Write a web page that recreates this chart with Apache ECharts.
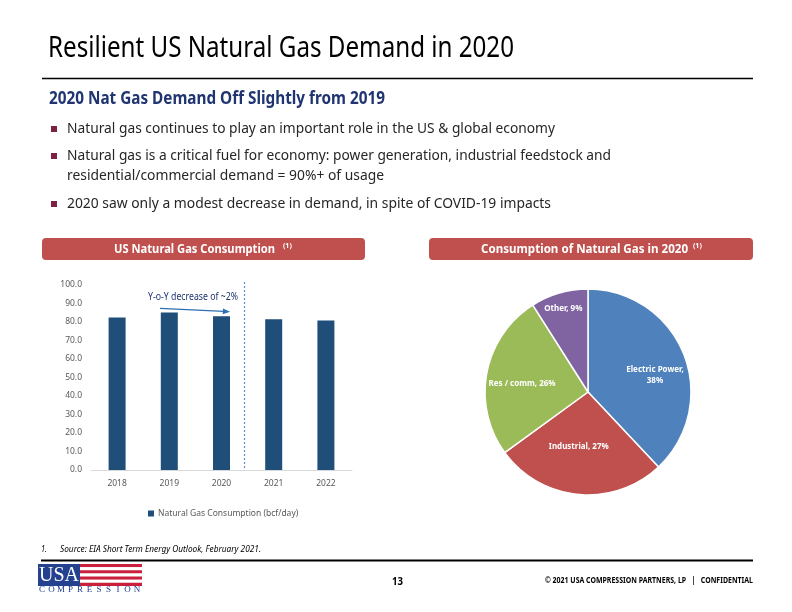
<!DOCTYPE html>
<html>
<head>
<meta charset="utf-8">
<script src="https://cdn.jsdelivr.net/npm/echarts@6/dist/echarts.min.js"></script>
<style>
html,body{margin:0;padding:0;background:#fff;}
#chart{width:792px;height:612px;}
</style>
</head>
<body>
<div id="chart"></div>
<script>
// ---------- data ----------
const years = ['2018', '2019', '2020', '2021', '2022'];
const consumption = [82.4, 85.1, 83.1, 81.5, 80.8];
const seriesName = 'Natural Gas Consumption (bcf/day)';
const yTicks = [0, 10, 20, 30, 40, 50, 60, 70, 80, 90, 100];
const pieNames = ['Electric Power', 'Industrial', 'Res / comm', 'Other'];
const pieValues = [38, 27, 26, 9];

const slideTitle = 'Resilient US Natural Gas Demand in 2020';
const subTitle = '2020 Nat Gas Demand Off Slightly from 2019';
const bullets = [
  ['Natural gas continues to play an important role in the US & global economy'],
  ['Natural gas is a critical fuel for economy: power generation, industrial feedstock and',
   'residential/commercial demand = 90%+ of usage'],
  ['2020 saw only a modest decrease in demand, in spite of COVID-19 impacts']
];
const leftHeader = 'US Natural Gas Consumption';
const rightHeader = 'Consumption of Natural Gas in 2020';
const noteText = 'Y-o-Y decrease of ~2%';
const sourceText = 'Source: EIA Short Term Energy Outlook, February 2021.';
const pageNum = '13';
const footerRight = '\u00A9 2021 USA COMPRESSION PARTNERS, LP   |   CONFIDENTIAL';

// ---------- styles ----------
const pieColors = ['#4f81bd', '#c0504d', '#9bbb59', '#8064a2'];
const pieLabelPos = [[0.65, -0.16], [-0.09, 0.53], [-0.64, -0.08], [-0.24, -0.81]];
const FONT = '"Noto Sans", "Open Sans", sans-serif';
const pieCenter = [588, 392];
const pieRadius = 103;

const cvs = document.createElement('canvas');
const ctx2 = cvs.getContext('2d');
function fitScale(text, font, w) {
  ctx2.font = font;
  return w / ctx2.measureText(text).width;
}
function fitText(text, x, y, w, size, weight, fill, extra) {
  const font = (extra && extra.italic ? 'italic ' : '') + weight + ' ' + size + 'px ' + FONT;
  const s = fitScale(text, font, w);
  return Object.assign({
    type: 'text', x: x, y: y, scaleX: s, z: 10,
    style: { text: text, font: font, fill: fill, verticalAlign: 'middle', align: 'left' }
  }, {});
}

const graphics = [];
// title
graphics.push(fitText(slideTitle, 48, 49, 466, 29, 'normal', '#000'));
graphics.push({ type: 'line', shape: { x1: 42, y1: 78.5, x2: 753, y2: 78.5 }, style: { stroke: '#000', lineWidth: 1.5 } });
graphics.push(fitText(subTitle, 49, 99, 336, 17, 'bold', '#1f3470'));
// bullets
const bulletY = [[129], [156, 176], [204]];
const bulletW = [[488], [544, 317], [484]];
bullets.forEach((lines, i) => {
  graphics.push({ type: 'rect', shape: { x: 51, y: bulletY[i][0] - 3, width: 6, height: 6 }, style: { fill: '#7b2244' } });
  lines.forEach((t, j) => {
    graphics.push(fitText(t, 67, bulletY[i][j], bulletW[i][j], 14, 'normal', '#262626'));
  });
});
// header boxes
graphics.push({ type: 'rect', shape: { x: 42, y: 238, width: 323, height: 22, r: 4 }, style: { fill: '#c0504d' } });
graphics.push(fitText(leftHeader, 114, 249.5, 161, 13, 'bold', '#fff'));
graphics.push({ type: 'text', x: 283, y: 246, style: { text: '(1)', font: 'bold 7px ' + FONT, fill: '#fff', verticalAlign: 'middle' } });
graphics.push({ type: 'rect', shape: { x: 429, y: 238, width: 324, height: 22, r: 4 }, style: { fill: '#c0504d' } });
graphics.push(fitText(rightHeader, 481, 249.5, 207, 13, 'bold', '#fff'));
graphics.push({ type: 'text', x: 693, y: 246, style: { text: '(1)', font: 'bold 7px ' + FONT, fill: '#fff', verticalAlign: 'middle' } });
// dashed separator and arrow annotation
graphics.push({ type: 'line', shape: { x1: 244.5, y1: 282, x2: 244.5, y2: 470 }, style: { stroke: '#5b8fd0', lineWidth: 1.2, lineDash: [2, 2] } });
graphics.push({ type: 'line', shape: { x1: 160, y1: 308.3, x2: 224, y2: 311.4 }, style: { stroke: '#2e6fb5', lineWidth: 1.3 } });
graphics.push({ type: 'polygon', shape: { points: [[230, 311.7], [223, 308.6], [222.7, 314.2]] }, style: { fill: '#2e6fb5' } });
graphics.push(fitText(noteText, 148, 297.5, 90, 10, 'normal', '#1f3470'));
// footer
graphics.push(fitText('1.', 41, 550, 6, 8, 'normal', '#000', { italic: true }));
graphics.push(fitText(sourceText, 60, 550, 201, 8, 'normal', '#000', { italic: true }));
graphics.push({ type: 'line', shape: { x1: 41, y1: 560.5, x2: 753, y2: 560.5 }, style: { stroke: '#000', lineWidth: 2 } });
graphics.push(fitText(pageNum, 392, 582, 11, 11, 'bold', '#000'));
graphics.push(fitText(footerRight, 545, 581, 208, 8, 'bold', '#000'));
// logo
graphics.push({ type: 'rect', shape: { x: 38, y: 564, width: 42, height: 22 }, style: { fill: '#24418f' } });
for (let k = 0; k < 7; k++) {
  graphics.push({ type: 'rect', shape: { x: 80, y: 564 + k * 22 / 7, width: 62, height: 22 / 7 }, style: { fill: k % 2 === 0 ? '#c8203d' : '#ffffff' } });
}
graphics.push({ type: 'text', x: 59, y: 575.5, style: { text: 'USA', font: '20px "Liberation Serif", "DejaVu Serif", serif', fill: '#fff', align: 'center', verticalAlign: 'middle' } });
'COMPRESSION'.split('').forEach((c, k) => {
  graphics.push({ type: 'text', x: 42 + k * 9.5, y: 590, style: { text: c, font: '9px "Liberation Serif", serif', fill: '#24418f', align: 'center', verticalAlign: 'middle' } });
});

const chart = echarts.init(document.getElementById('chart'), null, { renderer: 'canvas' });

const total = pieValues.reduce((a, b) => a + b, 0);
chart.setOption({
  animation: false,
  backgroundColor: '#fff',
  textStyle: { fontFamily: FONT },
  grid: { left: 91, right: 440, top: 285, height: 185 },
  xAxis: {
    type: 'category', data: years,
    axisLine: { lineStyle: { color: '#d9d9d9' } },
    axisTick: { show: false },
    axisLabel: { color: '#595959', fontSize: 8.5, margin: 9 }
  },
  yAxis: {
    type: 'value', min: yTicks[0], max: yTicks[yTicks.length - 1], interval: yTicks[1] - yTicks[0],
    splitLine: { show: false }, axisLine: { show: false }, axisTick: { show: false },
    axisLabel: { color: '#595959', fontSize: 8.5, margin: 9, formatter: v => v.toFixed(1) }
  },
  legend: {
    data: [seriesName], left: 143, top: 504, itemWidth: 6, itemHeight: 6, itemGap: 4,
    icon: 'rect', textStyle: { color: '#595959', fontSize: 8.5, padding: [0, 0, 0, -1] }
  },
  series: [
    {
      type: 'bar', name: seriesName, data: consumption, barWidth: 17,
      itemStyle: { color: '#1f4e79' }
    },
    {
      type: 'pie', center: pieCenter, radius: pieRadius, startAngle: 90, clockwise: true,
      data: pieNames.map((n, i) => ({ name: n, value: pieValues[i], itemStyle: { color: pieColors[i] } })),
      itemStyle: { borderColor: '#fff', borderWidth: 1.5 },
      label: {
        position: 'inside', color: '#fff', fontSize: 8, fontWeight: 'bold', lineHeight: 11,
        formatter: p => p.dataIndex === 0 ? p.name + ',\n' + Math.round(p.value / total * 100) + '%' : p.name + ', ' + Math.round(p.value / total * 100) + '%'
      },
      labelLine: { show: false },
      labelLayout: p => ({
        x: pieCenter[0] + pieLabelPos[p.dataIndex][0] * pieRadius,
        y: pieCenter[1] + pieLabelPos[p.dataIndex][1] * pieRadius,
        align: 'center', verticalAlign: 'middle'
      }),
      emphasis: { disabled: true }
    }
  ],
  graphic: graphics
});
</script>
</body>
</html>
